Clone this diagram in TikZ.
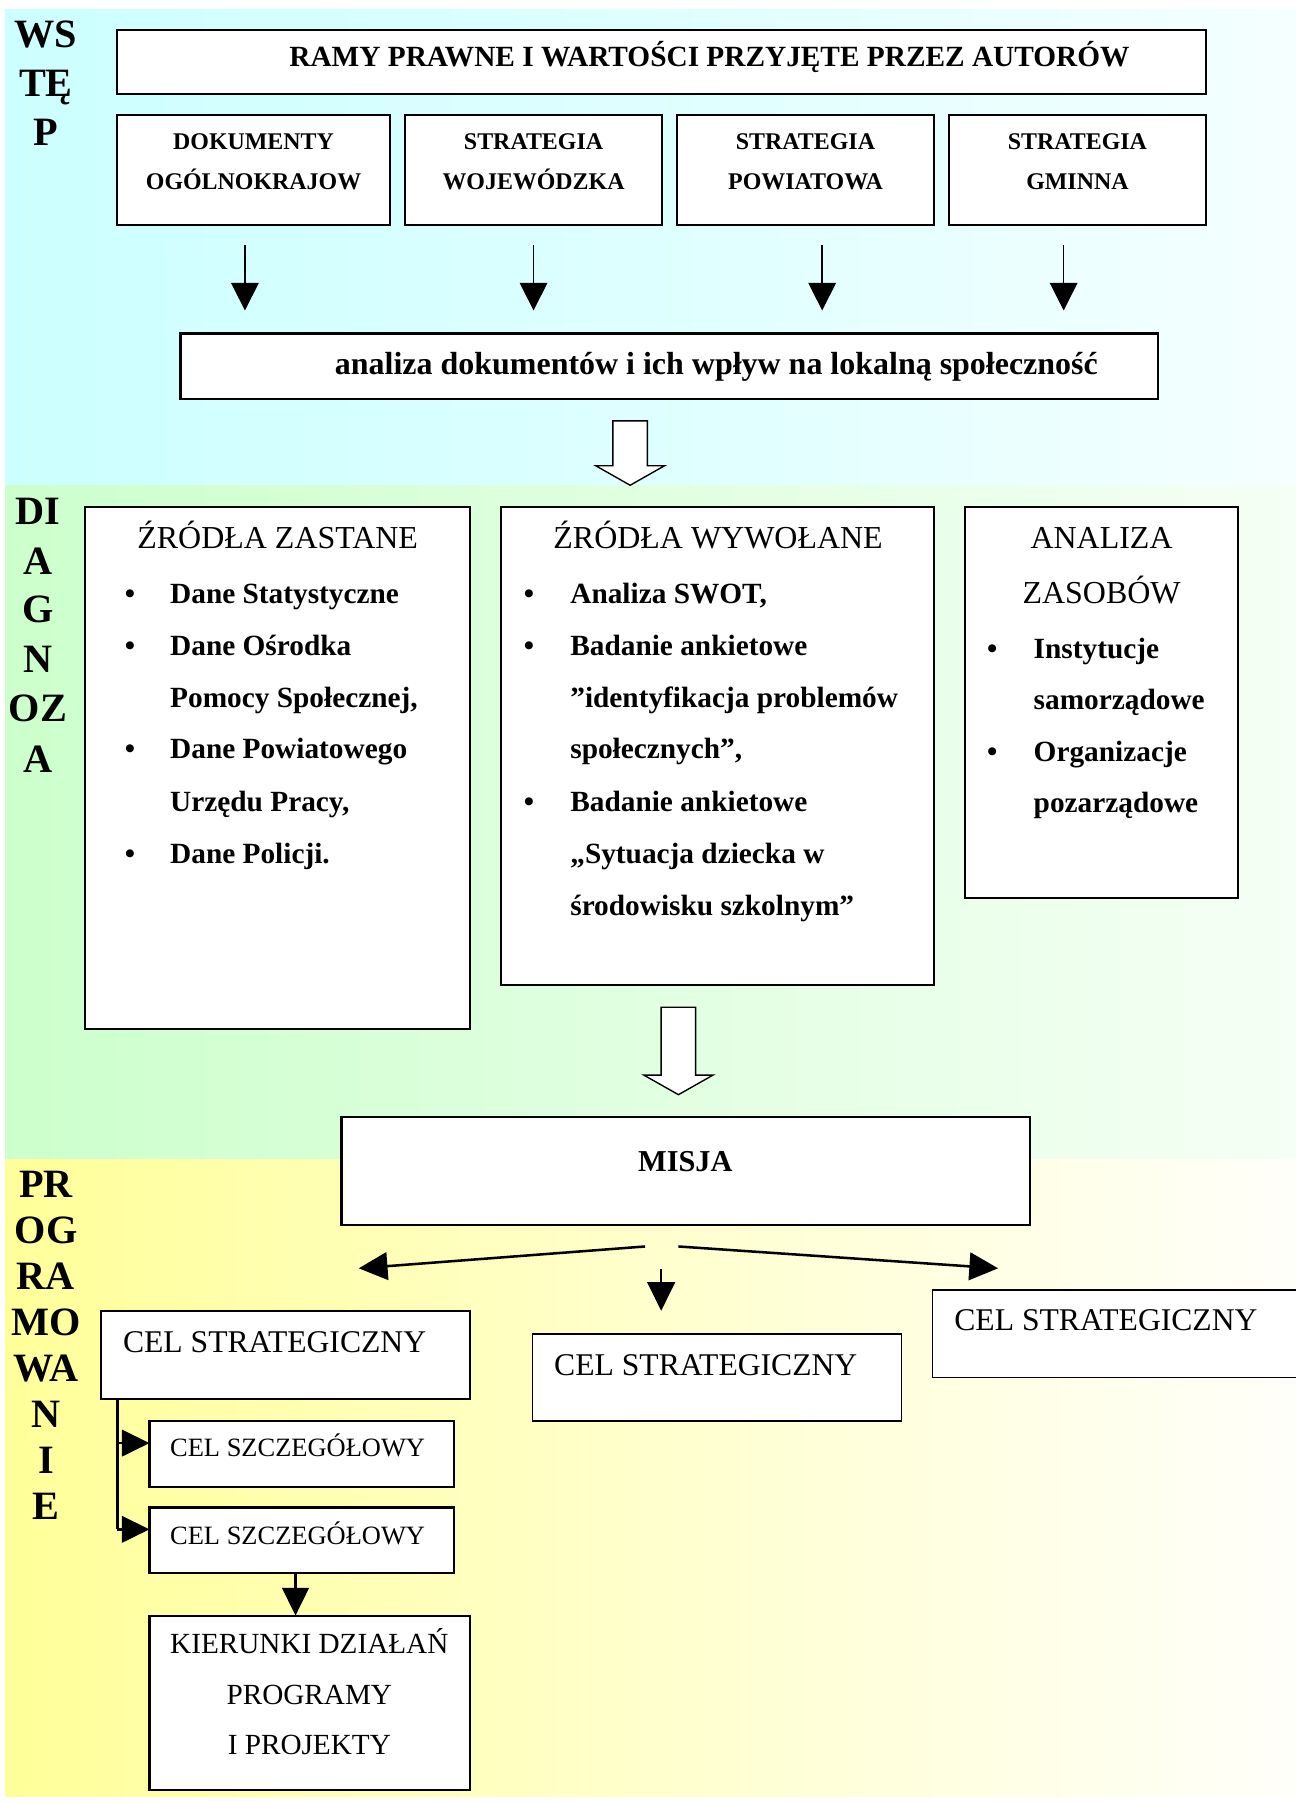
\documentclass[tikz,border=0pt]{standalone}
\usepackage{fontspec}
\setmainfont{Liberation Serif}
\usetikzlibrary{arrows.meta,fit}
\definecolor{cyL}{RGB}{204,255,255}
\definecolor{cyM}{RGB}{222,255,255}
\definecolor{cyR}{RGB}{245,255,255}
\definecolor{grL}{RGB}{204,255,204}
\definecolor{grM}{RGB}{225,255,225}
\definecolor{grR}{RGB}{245,255,245}
\definecolor{yeL}{RGB}{255,255,153}
\definecolor{yeM}{RGB}{255,255,205}
\definecolor{yeR}{RGB}{255,255,250}
\newcommand\fsLab{\fontsize{17.5pt}{20pt}\selectfont\bfseries}
\newcommand\fsRamy{\fontsize{12.75pt}{15pt}\selectfont\bfseries}
\newcommand\fsRow{\fontsize{10.4pt}{12pt}\selectfont\bfseries}
\newcommand\fsAnal{\fontsize{13.9pt}{16pt}\selectfont\bfseries}
\newcommand\fsTitle{\fontsize{13.9pt}{16pt}\selectfont}
\newcommand\fsBul{\fontsize{12.75pt}{15pt}\selectfont\bfseries}
\newcommand\fsMisja{\fontsize{13.2pt}{15pt}\selectfont\bfseries}
\newcommand\fsCel{\fontsize{13.75pt}{16pt}\selectfont}
\newcommand\fsSz{\fontsize{11.5pt}{14pt}\selectfont}
\newcommand\fsKier{\fontsize{12.7pt}{15pt}\selectfont}
\begin{document}
\begin{tikzpicture}[x=0.5pt,y=-0.5pt,
  box/.style={draw=black,line width=0.9pt,fill=white,inner sep=0pt,outer sep=0pt},
  tx/.style={inner sep=0pt,outer sep=0pt,anchor=base},
  txl/.style={inner sep=0pt,outer sep=0pt,anchor=base west},
  lab/.style={tx,font=\fsLab},
  bul/.style={tx,font=\fsBul},
  bt/.style={txl,font=\fsBul},
  thinarr/.style={line width=0.6pt,-{Triangle[width=12pt,length=12pt]}},
  midarr/.style={line width=1.1pt,-{Triangle[width=12pt,length=12.5pt]}},
  brarr/.style={line width=1.1pt,-{Triangle[width=11.5pt,length=12pt]}},
  hollow/.style={draw=black,line width=0.6pt,fill=white,line join=miter}
]
\useasboundingbox (0,0) rectangle (1127,1568);
% backgrounds
\shade[left color=cyL, right color=cyR, middle color=cyM] (5,8) rectangle (1127,422);
\shade[left color=grL, right color=grR, middle color=grM] (5,422) rectangle (1127,1008);
\shade[left color=yeL, right color=yeR, middle color=yeM] (5,1008) rectangle (1127,1562);

% side labels
\foreach \t/\y [count=\i] in {WS/41.5,TĘ/83.5,P/126.5}
  \node[lab] (ws\i) at (40,\y) {\t};
\foreach \t/\y [count=\i] in {DI/456.5,A/499.5,G/541.5,N/584.5,OZ/627.5,A/671.5}
  \node[lab] (dg\i) at (33,\y) {\t};
\foreach \t/\y [count=\i] in {PR/1041.5,OG/1081.5,RA/1121.5,MO/1161.5,WA/1201.5,N/1241.5,I/1281.5,E/1321.5}
  \node[lab] (pg\i) at (40,\y) {\t};

% WSTEP
\node[box,fit={(102,26)(1049,82)}] (ramy) {};
\node[tx,font=\fsRamy] (ramyT) at (617,58) {RAMY PRAWNE I WARTOŚCI PRZYJĘTE PRZEZ AUTORÓW};

\node[box,fit={(102,100)(339,196)}] (dok) {};
\node[box,fit={(352,100)(576,196)}] (woj) {};
\node[box,fit={(589,100)(812,196)}] (pow) {};
\node[box,fit={(825,100)(1049,196)}] (gmi) {};
\node[tx,font=\fsRow] (dokT1) at (220.5,130) {DOKUMENTY};
\node[tx,font=\fsRow] (dokT2) at (220.5,165) {OGÓLNOKRAJOW};
\node[tx,font=\fsRow] (wojT1) at (464,130) {STRATEGIA};
\node[tx,font=\fsRow] (wojT2) at (464,165) {WOJEWÓDZKA};
\node[tx,font=\fsRow] (powT1) at (700.5,130) {STRATEGIA};
\node[tx,font=\fsRow] (powT2) at (700.5,165) {POWIATOWA};
\node[tx,font=\fsRow] (gmiT1) at (937,130) {STRATEGIA};
\node[tx,font=\fsRow] (gmiT2) at (937,165) {GMINNA};

\foreach \x [count=\i] in {213,464,715,925} {
  \coordinate (as\i) at (\x,213);
  \coordinate (ae\i) at (\x,270);
  \draw[thinarr] (as\i) -- (ae\i);
}

\node[box,fit={(157,290)(1007,347)}] (anal) {};
\node[tx,font=\fsAnal] (analT) at (623,326) {analiza dokumentów i ich wpływ na lokalną społeczność};

\draw[hollow] (533,366) -- (563,366) -- (563,405) -- (578,405) -- (548,422) -- (518,405) -- (533,405) -- cycle;

% DIAGNOZA
\node[box,fit={(74,441)(409,895)}] (zast) {};
\node[box,fit={(436,441)(812,857)}] (wyw) {};
\node[box,fit={(839,441)(1077,781)}] (zas) {};
\node[tx,font=\fsTitle] (zastT) at (241.5,477) {ŹRÓDŁA ZASTANE};
\node[tx,font=\fsTitle] (wywT) at (624.5,477) {ŹRÓDŁA WYWOŁANE};
\node[tx,font=\fsTitle] (zasT1) at (958,477) {ANALIZA};
\node[tx,font=\fsTitle] (zasT2) at (958,525) {ZASOBÓW};

\foreach \y/\t [count=\i] in {525/Dane Statystyczne,570/Dane Ośrodka,615/{Pomocy Społecznej,},660/Dane Powiatowego,706/{Urzędu Pracy,},751/Dane Policji.}
  \node[bt] (zl\i) at (148,\y) {\t};
\foreach \y [count=\i] in {525,570,660,751}
  \node[bul] (zb\i) at (113,\y) {•};

\foreach \y/\t [count=\i] in {525/{Analiza SWOT,},570/Badanie ankietowe,615/”identyfikacja problemów,660/{społecznych”,},706/Badanie ankietowe,751/„Sytuacja dziecka w,796/środowisku szkolnym”}
  \node[bt] (wl\i) at (496,\y) {\t};
\foreach \y [count=\i] in {525,570,706}
  \node[bul] (wb\i) at (460,\y) {•};

\foreach \y/\t [count=\i] in {573/Instytucje,617/samorządowe,662/Organizacje,707/pozarządowe}
  \node[bt] (al\i) at (899,\y) {\t};
\foreach \y [count=\i] in {573,662}
  \node[bul] (ab\i) at (863,\y) {•};

\draw[hollow] (575,876) -- (605,876) -- (605,935) -- (620,935) -- (590,952) -- (560,935) -- (575,935) -- cycle;

% PROGRAMOWANIE
\node[box,fit={(297,971)(896,1065)}] (mis) {};
\node[tx,font=\fsMisja] (misT) at (596,1019) {MISJA};

\node[box,fit={(88,1140)(409,1217)}] (csL) {};
\node[txl,font=\fsCel] (csLT) at (107,1176) {CEL STRATEGICZNY};
\node[box,line width=0.75pt,fit={(463,1160)(784,1236)}] (csM) {};
\node[txl,font=\fsCel] (csMT) at (482,1196) {CEL STRATEGICZNY};
\node[box,line width=0.75pt,fit={(811,1122)(1150,1198)}] (csR) {};
\node[txl,font=\fsCel] (csRT) at (830,1157) {CEL STRATEGICZNY};

\coordinate (mL) at (561,1084); \coordinate (mLe) at (312,1103);
\coordinate (mR) at (590,1084); \coordinate (mRe) at (868,1103);
\coordinate (mM) at (575,1104); \coordinate (mMe) at (575,1140);
\draw[midarr] (mL) -- (mLe);
\draw[midarr] (mR) -- (mRe);
\draw[midarr] (mM) -- (mMe);

\node[box,fit={(130,1236)(395,1293)}] (sz1) {};
\node[txl,font=\fsSz] (sz1T) at (148,1267) {CEL SZCZEGÓŁOWY};
\node[box,fit={(130,1311)(395,1368)}] (sz2) {};
\node[txl,font=\fsSz] (sz2T) at (148,1343) {CEL SZCZEGÓŁOWY};

\node[box,fit={(130,1405)(409,1557)}] (kier) {};
\node[tx,font=\fsKier] (kierT1) at (269,1438) {KIERUNKI DZIAŁAŃ};
\node[tx,font=\fsKier] (kierT2) at (269,1482) {PROGRAMY};
\node[tx,font=\fsKier] (kierT3) at (269,1526) {I PROJEKTY};

\coordinate (brT) at (102,1217);
\coordinate (brB) at (102,1330);
\coordinate (br1) at (102,1255);
\draw[line width=1.1pt] (brT) -- (brB);
\draw[brarr] (br1) -- (br1 -| sz1.west);
\draw[brarr] (brB) -- (brB -| sz2.west);
\coordinate (kd) at (257,1368);
\draw[brarr] (kd) -- (kd |- kier.north);
\end{tikzpicture}
\end{document}
